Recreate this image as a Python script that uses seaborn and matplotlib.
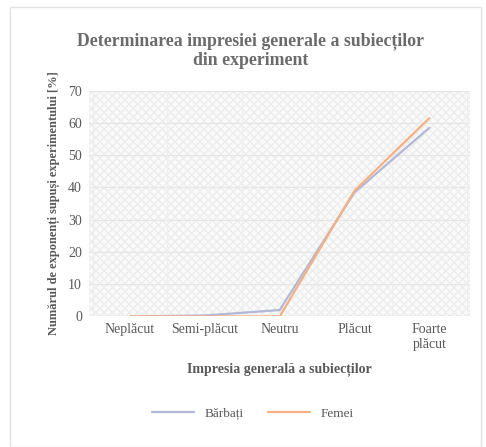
import matplotlib
matplotlib.use('Agg')
import matplotlib.pyplot as plt
import numpy as np
import pandas as pd
import seaborn as sns

# --------------------
# data
# --------------------
categories = ['Neplăcut', 'Semi-plăcut', 'Neutru', 'Plăcut', 'Foarte\nplăcut']
barbati = [0, 0.3, 2, 38.5, 58.5]
femei = [0, 0, 0, 39, 61.5]
series_names = ['Bărbați', 'Femei']
y_ticks = [0, 10, 20, 30, 40, 50, 60, 70]

df = pd.DataFrame({
    'cat': categories * 2,
    'x': list(range(len(categories))) * 2,
    'val': barbati + femei,
    'grup': [series_names[0]] * len(categories) + [series_names[1]] * len(categories),
})

sns.set_style('white')
serif = ['Liberation Serif', 'DejaVu Serif']
plt.rcParams['font.family'] = serif

fig = plt.figure(figsize=(4.86, 4.47), dpi=100)
fig.patch.set_facecolor('white')
ax = fig.add_axes([0.183, 0.292, 0.785, 0.505])

# hatched plot background
ax.set_facecolor('#fafafa')
ax.add_patch(plt.Rectangle((0, 0), 1, 1, transform=ax.transAxes, facecolor='none',
                           edgecolor='#ededed', hatch='xxxx', lw=0, zorder=0))

palette = {series_names[0]: '#b3b8d6', series_names[1]: '#f4b183'}
sns.lineplot(data=df, x='x', y='val', hue='grup', palette=palette,
             linewidth=1.6, ax=ax, legend=False, zorder=3)

ax.set_xlim(-0.55, len(categories) - 0.45)
ax.set_ylim(0, 70)
ax.set_yticks(y_ticks)
ax.set_yticklabels([str(t) for t in y_ticks], color='#595959', fontsize=10)
ax.set_xticks(range(len(categories)))
ax.set_xticklabels(categories, color='#595959', fontsize=10)
ax.tick_params(length=0, pad=5)
for t in y_ticks[1:]:
    ax.axhline(t, color='#e6e6e6', lw=0.8, zorder=1)
for i in range(len(categories) + 1):
    ax.axvline(i - 0.5, color='#eeeeee', lw=0.8, zorder=1)
for s in ax.spines.values():
    s.set_visible(False)
ax.axhline(0, color='#d9d9d9', lw=1, zorder=2)

ax.set_xlabel('Impresia generală a subiecților', fontsize=10, fontweight='bold',
              color='#595959', labelpad=8)
ax.set_ylabel('Numărul de exponenți supuși experimentului [%]', fontsize=9,
              fontweight='bold', color='#595959', labelpad=6)

fig.suptitle('Determinarea impresiei generale a subiecților\ndin experiment',
             fontsize=12.8, fontweight='bold', color='#6b6b6b', x=0.515, y=0.927,
             linespacing=1.15)

handles = [plt.Line2D([], [], color=palette[n], lw=1.6) for n in series_names]
leg = ax.legend(handles, series_names, loc='upper center', bbox_to_anchor=(0.43, -0.35),
                ncol=2, frameon=False, prop={'family': serif, 'size': 9.5},
                handlelength=3.2, columnspacing=1.8)
for txt in leg.get_texts():
    txt.set_color('#595959')

# light outer border
fig.add_artist(plt.Rectangle((0.02, 0.0), 0.97, 0.985, transform=fig.transFigure,
                             fill=False, edgecolor='#e3e3e3', lw=1))

fig.savefig('out.png', dpi=100)
